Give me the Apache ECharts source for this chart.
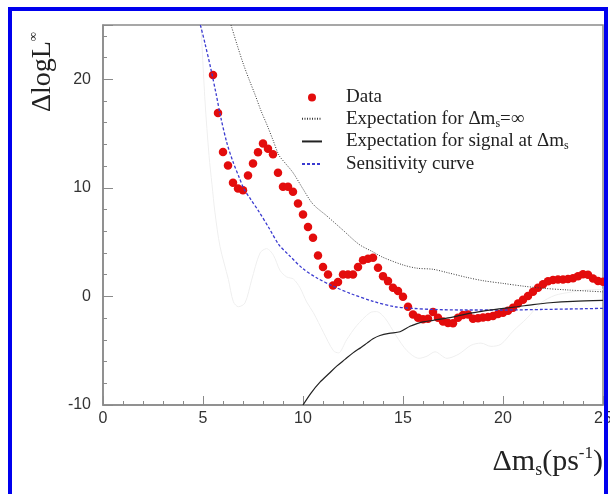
<!DOCTYPE html>
<html>
<head>
<meta charset="utf-8">
<script src="https://cdn.jsdelivr.net/npm/echarts@6/dist/echarts.min.js"></script>
<style>
  html, body { margin: 0; padding: 0; background: #fff; }
  #chart { width: 610px; height: 494px; }
</style>
</head>
<body>
<div id="chart"></div>
<script>
// measured points (red dots)
const dataX = [5.5, 5.75, 6, 6.25, 6.5, 6.75, 7, 7.25, 7.5, 7.75, 8, 8.25, 8.5, 8.75, 9, 9.25, 9.5, 9.75,
  10, 10.25, 10.5, 10.75, 11, 11.25, 11.5, 11.75, 12, 12.25, 12.5, 12.75, 13, 13.25, 13.5, 13.75,
  14, 14.25, 14.5, 14.75, 15, 15.25, 15.5, 15.75, 16, 16.25, 16.5, 16.75, 17, 17.25, 17.5, 17.75,
  18, 18.25, 18.5, 18.75, 19, 19.25, 19.5, 19.75, 20, 20.25, 20.5, 20.75, 21, 21.25, 21.5, 21.75,
  22, 22.25, 22.5, 22.75, 23, 23.25, 23.5, 23.75, 24, 24.25, 24.5, 24.75, 25];
const dataY = [20.4, 16.9, 13.3, 12.05, 10.46, 9.94, 9.78, 11.13, 12.24, 13.28, 14.08, 13.6, 13.1, 11.4, 10.1, 10.1, 9.65, 8.55,
  7.54, 6.4, 5.4, 3.77, 2.7, 2.02, 1.01, 1.32, 2.02, 2.02, 2.02, 2.7, 3.34, 3.47, 3.56, 2.64,
  1.87, 1.41, 0.8, 0.49, -0.03, -0.95, -1.66, -1.96, -2.1, -2.05, -1.44, -1.96, -2.3, -2.45, -2.48, -1.96,
  -1.7, -1.66, -2.05, -2.0, -1.95, -1.9, -1.8, -1.62, -1.5, -1.33, -1.05, -0.66, -0.3, 0.05, 0.42, 0.8,
  1.13, 1.4, 1.52, 1.56, 1.56, 1.6, 1.68, 1.86, 2.05, 2.0, 1.65, 1.42, 1.35];

// expectation for dms = infinity (dotted)
const infX = [6.4, 6.7, 7.0, 7.3, 7.6, 7.9, 8.2, 8.5, 8.8, 9.1, 9.5, 10.0, 10.5, 11.2, 12.0, 12.8, 13.5, 14.0,
  15.0, 15.7, 16.5, 17.2, 18.2, 19.0, 20.0, 21.0, 22.0, 23.2, 24.2, 25.0];
const infY = [25.0, 23.2, 21.5, 20.0, 18.6, 17.1, 15.8, 14.4, 13.0, 12.3, 11.4, 9.9, 8.5, 7.4, 6.1, 4.8, 4.1, 3.6,
  2.9, 2.6, 2.5, 2.2, 1.75, 1.45, 1.2, 0.95, 0.75, 0.6, 0.5, 0.42];

// expectation for signal at dms (solid)
const sigX = [10.0, 10.4, 10.85, 11.3, 11.7, 12.1, 12.5, 12.9, 13.2, 13.5, 13.85, 14.3, 14.85, 15.35, 15.7, 16.0,
  16.5, 17.35, 18.2, 19.0, 19.8, 20.7, 21.5, 22.35, 23.5, 25.0];
const sigY = [-10.0, -8.9, -7.9, -7.1, -6.4, -5.8, -5.2, -4.7, -4.3, -3.9, -3.6, -3.4, -3.25, -2.75, -2.5, -2.35,
  -2.2, -1.95, -1.6, -1.35, -1.15, -0.95, -0.75, -0.58, -0.45, -0.37];

// sensitivity curve (blue dashed)
const sensX = [4.87, 5.1, 5.4, 5.65, 5.9, 6.2, 6.5, 6.8, 7.05, 7.4, 7.8, 8.3, 8.8, 9.3, 10.0, 10.7, 11.5, 12.4,
  13.5, 14.6, 15.5, 16.5, 18.0, 20.0, 22.0, 25.0];
const sensY = [25.0, 23.3, 20.9, 18.7, 16.4, 14.1, 12.4, 11.0, 9.9, 8.9, 7.8, 6.3, 4.75, 3.8, 2.55, 1.7, 0.95, 0.25,
  -0.45, -0.95, -1.1, -1.2, -1.25, -1.25, -1.2, -1.1];

// very faint background curve
const faintX = [4.9, 5.1, 5.3, 5.45, 5.6, 5.85, 6.27, 6.52, 6.77, 7.1, 7.43, 7.85, 8.18, 8.52, 8.85, 9.18, 9.52,
  9.85, 10.18, 10.52, 11.02, 11.52, 11.77, 12.18, 12.68, 13.35, 13.68, 14.1, 14.65, 15.2, 15.8, 16.2, 16.6,
  17.2, 17.8, 18.4, 18.9, 19.4, 19.9, 20.5, 21.2, 21.9, 22.6, 23.4, 24.2, 25.0];
const faintY = [25, 18, 13, 10.3, 7.7, 4.6, 1.56, -0.5, -0.95, -0.6, 1.5, 4.0, 4.4, 3.8, 2.4, 1.8, 1.6,
  0.8, -0.5, -1.5, -3.3, -5.0, -5.2, -4.0, -2.7, -1.5, -1.4, -2.0, -3.6, -5.0, -5.7, -5.5, -5.1,
  -5.7, -5.3, -4.5, -4.3, -4.6, -4.4, -3.2, -2.0, -0.6, 0.1, 0.4, 0.6, 0.65];

const xTicks = [0, 25, 5];
const yTicks = [-10, 25, 10];

const legendNames = {
  'Data': '{a|Data}',
  'Expectation for Δms=∞': '{a|Expectation for Δm}{s|s}{a|=∞}',
  'Expectation for signal at Δms': '{a|Expectation for signal at Δm}{s|s}',
  'Sensitivity curve': '{a|Sensitivity curve}'
};

const pairs = function (xs, ys) {
  return xs.map((x, i) => [x, ys[i]]);
};

const serif = 'Liberation Serif';
const sans = 'Liberation Sans';

const chart = echarts.init(document.getElementById('chart'), null, { renderer: 'canvas' });

const option = {
  animation: false,
  backgroundColor: '#fff',
  grid: {
    left: 103, right: 7, top: 25, bottom: 89,
    outerBoundsMode: 'none',
    containLabel: false,
    show: true, borderColor: '#8a8a8a', borderWidth: 1.5
  },
  legend: {
    orient: 'vertical',
    left: 301, top: 88,
    padding: 0,
    itemGap: 2.3,
    itemWidth: 20,
    itemHeight: 8,
    data: [
      { name: 'Data' },
      { name: 'Expectation for Δms=∞', itemStyle: { opacity: 0 } },
      { name: 'Expectation for signal at Δms', itemStyle: { opacity: 0 } },
      { name: 'Sensitivity curve', itemStyle: { opacity: 0 } }
    ],
    formatter: name => legendNames[name],
    textStyle: {
      padding: [0, 0, 0, 19],
      rich: {
        a: { fontFamily: serif, fontSize: 19, color: '#222', lineHeight: 21.7 },
        s: { fontFamily: serif, fontSize: 12, color: '#222', lineHeight: 21.7, verticalAlign: 'bottom' }
      }
    }
  },
  xAxis: {
    type: 'value',
    min: xTicks[0], max: xTicks[1], interval: xTicks[2],
    name: '{a|Δm}{s|s}{a|(ps}{p|-1}{a|)}',
    nameLocation: 'end',
    nameGap: 0,
    nameTextStyle: {
      align: 'right', verticalAlign: 'top', padding: [40, 0, 0, 0],
      rich: {
        a: { fontFamily: serif, fontSize: 30, color: '#222', lineHeight: 34 },
        s: { fontFamily: serif, fontSize: 18, color: '#222', lineHeight: 34, verticalAlign: 'bottom' },
        p: { fontFamily: serif, fontSize: 17, color: '#222', lineHeight: 34, verticalAlign: 'top' }
      }
    },
    axisLine: { onZero: false, lineStyle: { color: '#8a8a8a', width: 1.5 } },
    axisTick: { inside: true, length: 9, lineStyle: { color: '#8a8a8a' } },
    minorTick: { show: true, splitNumber: 5, length: 4, lineStyle: { color: '#8a8a8a' } },
    splitLine: { show: false },
    axisLabel: { fontFamily: sans, fontSize: 16, color: '#333', margin: 6 }
  },
  yAxis: {
    type: 'value',
    min: yTicks[0], max: yTicks[1], interval: yTicks[2],
    axisLine: { show: true, onZero: false, lineStyle: { color: '#8a8a8a', width: 1.5 } },
    axisTick: { show: true, inside: true, length: 10, lineStyle: { color: '#8a8a8a' } },
    minorTick: { show: true, splitNumber: 5, length: 4, lineStyle: { color: '#8a8a8a' } },
    splitLine: { show: false },
    axisLabel: { fontFamily: sans, fontSize: 16, color: '#333', margin: 12, showMaxLabel: false }
  },
  series: [
    {
      name: 'faint', type: 'line', symbol: 'none', smooth: 0.3,
      data: pairs(faintX, faintY),
      lineStyle: { color: '#efefef', width: 1 },
      z: 1
    },
    {
      name: 'Sensitivity curve', type: 'line', symbol: 'none', smooth: 0.3,
      data: pairs(sensX, sensY),
      lineStyle: { color: '#3b3bd0', width: 1.3, type: [3, 2] },
      itemStyle: { color: '#3b3bd0' },
      z: 3
    },
    {
      name: 'Expectation for Δms=∞', type: 'line', symbol: 'none', smooth: 0.3,
      data: pairs(infX, infY),
      lineStyle: { color: '#3a3a3a', width: 1, type: [1, 1.5] },
      itemStyle: { color: '#3a3a3a' },
      z: 3
    },
    {
      name: 'Expectation for signal at Δms', type: 'line', symbol: 'none', smooth: 0.3,
      data: pairs(sigX, sigY),
      lineStyle: { color: '#222', width: 1.2 },
      itemStyle: { color: '#222' },
      z: 3
    },
    {
      name: 'Data', type: 'scatter', symbol: 'circle', symbolSize: 8.5,
      data: pairs(dataX, dataY),
      itemStyle: { color: '#e30c0c', opacity: 1 },
      z: 2
    }
  ],
  graphic: [
    {
      type: 'text', x: 43, y: 72, rotation: Math.PI / 2,
      style: {
        text: '{a|ΔlogL}{b|∞}',
        textAlign: 'center', textVerticalAlign: 'middle',
        rich: {
          a: { fontFamily: serif, fontSize: 28, fill: '#222', lineHeight: 32 },
          b: { fontFamily: serif, fontSize: 13, fill: '#222', lineHeight: 32, verticalAlign: 'top' }
        }
      }
    },
    {
      type: 'rect', z: 100,
      shape: { x: 10, y: 9, width: 596, height: 500 },
      style: { fill: null, stroke: '#0000ee', lineWidth: 4 }
    }
  ]
};

chart.setOption(option);
</script>
</body>
</html>
